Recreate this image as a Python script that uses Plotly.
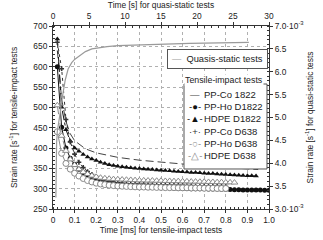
import plotly.graph_objects as go

# ---------------- data ----------------
# time grid of the tensile-impact tests [ms]
t_impact = [0.02, 0.04, 0.06, 0.08, 0.10, 0.12, 0.14, 0.16, 0.18, 0.20,
            0.22, 0.24, 0.26, 0.28, 0.30, 0.32, 0.34, 0.36, 0.38, 0.40,
            0.42, 0.44, 0.46, 0.48, 0.50, 0.52, 0.54, 0.56, 0.58, 0.60,
            0.62, 0.64, 0.66, 0.68, 0.70, 0.72, 0.74, 0.76, 0.78, 0.80,
            0.82, 0.84, 0.86, 0.88, 0.90, 0.92, 0.94, 0.96, 0.98, 1.00]

ppco_1822_t = [0.02, 0.04, 0.06, 0.08, 0.10, 0.15, 0.20, 0.30, 0.40, 0.50,
               0.60, 0.70, 0.80, 0.90, 0.95]
ppco_1822 = [640, 520, 465, 435, 418, 398, 388, 377, 370, 365,
             360, 356, 352, 349, 347]

ppho_d1822 = [600, 451, 400, 375, 360, 348, 340, 334, 329, 325,
              321, 318, 315, 313, 311, 309.5, 308, 307, 306, 305,
              304.5, 304, 303.5, 303, 302.5, 302, 301.5, 301, 301, 300.5,
              300.5, 300, 300, 299.5, 299.5, 299, 299, 299, 298.5, 298.5,
              298, 297.5, 297.5, 297, 297, 297, 296.5, 296.5, 296, 296]

hdpe_d1822 = [668, 500, 445, 417, 400, 392, 384, 378, 373, 369,
              365, 362, 359, 357, 355, 354, 352.5, 351.5, 350.5, 349.5,
              348.5, 347.5, 347, 346, 345, 344.5, 344, 343, 342, 341.5,
              341, 340, 339.5, 339, 338, 337.5, 337, 336, 335.5, 335,
              334, 333.5, 333, 332.5, 332, 331.5, 331]

ppco_d638 = [660, 595, 470, 415, 385, 365, 352, 342, 335, 330,
             325, 321, 318, 316, 314.5, 313.5, 312.5, 312, 311.5, 311,
             310.5, 310, 310, 309.5, 309, 309, 308.5, 308.5, 308, 308,
             307.5, 307.5, 307, 307, 306.5, 306.5, 306, 306, 305.5, 305.5]

ppho_d638 = [440, 387, 362, 348, 338, 331, 325, 320, 316.5, 313.5,
             311.5, 310, 308.5, 307.5, 306.5, 306, 305.5, 305, 304.5, 304,
             304, 303.5, 303.5, 303, 303, 302.5, 302.5, 302.5, 302, 302,
             302, 301.5, 301.5, 301.5, 301, 301, 301, 300.5, 300.5, 300.5]

hdpe_d638 = [505, 430, 393, 372, 358, 348, 341, 336, 332, 329,
             327, 325.5, 324.5, 323.5, 323, 322.5, 322, 321.5, 321, 320.5,
             320.5, 320, 320, 319.5, 319.5, 319, 319, 318.5, 318.5, 318,
             318, 317.5, 317.5, 317, 317, 316.5, 316.5, 316, 316, 315.5,
             315.5, 315]

# quasi-static test: time [s], strain rate [1e-3 s^-1]
qs_t = [0.4, 0.42, 0.5, 0.6, 0.75, 1.0, 1.2, 1.4, 1.7, 2.1, 2.6, 3.0, 3.5,
        4.0, 4.5, 5.4, 6.5, 7.5, 9.0, 10.5, 12.0, 14.0, 16.7, 19.0, 22.0,
        25.0, 27.2]
qs_rate_e3 = [3.25, 3.9, 4.45, 4.7, 4.9, 5.1, 5.35, 5.56, 5.82, 6.06, 6.2,
              6.27, 6.33, 6.39, 6.44, 6.5, 6.53, 6.55, 6.57, 6.58, 6.59,
              6.6, 6.61, 6.62, 6.63, 6.64, 6.64]

x_ticks = [0, 0.1, 0.2, 0.3, 0.4, 0.5, 0.6, 0.7, 0.8, 0.9, 1.0]
x_labels = ["0", "0.1", "0.2", "0.3", "0.4", "0.5", "0.6", "0.7", "0.8", "0.9", "1.0"]
y2_ticks = [3.0, 3.5, 4.0, 4.5, 5.0, 5.5, 6.0, 6.5, 7.0]
y2_labels = ["3.0·10<sup>-3</sup>", "3.5", "4.0", "4.5", "5.0", "5.5", "6.0",
             "6.5", "7.0·10<sup>-3</sup>"]

legend2_names = ["PP-Co 1822", "PP-Ho D1822", "HDPE D1822",
                 "PP-Co D638", "PP-Ho D638", "HDPE D638"]

# ---------------- figure ----------------
FONT = "Liberation Sans, Arial, sans-serif"
BLACK = "#111111"
GRAY = "#8a8a8a"
TICKFS = 8.4
TITLEFS = 8.4

fig = go.Figure()

fig.add_trace(go.Scatter(x=ppco_1822_t, y=ppco_1822, mode="lines", name=legend2_names[0],
                         line=dict(color="#444444", width=1, dash="8px,4px")))
fig.add_trace(go.Scatter(x=t_impact[:len(ppho_d1822)], y=ppho_d1822, mode="lines+markers",
                         name=legend2_names[1],
                         line=dict(color=BLACK, width=1),
                         marker=dict(symbol="circle", size=5, color=BLACK)))
fig.add_trace(go.Scatter(x=t_impact[:len(hdpe_d1822)], y=hdpe_d1822, mode="lines+markers",
                         name=legend2_names[2],
                         line=dict(color=BLACK, width=1, dash="dashdot"),
                         marker=dict(symbol="triangle-up", size=5, color=BLACK)))
fig.add_trace(go.Scatter(x=t_impact[:len(ppco_d638)], y=ppco_d638, mode="lines+markers",
                         name=legend2_names[3],
                         line=dict(color="#333333", width=1, dash="dot"),
                         marker=dict(symbol="cross", size=4, color="#333333")))
fig.add_trace(go.Scatter(x=t_impact[:len(ppho_d638)], y=ppho_d638, mode="lines+markers",
                         name=legend2_names[4],
                         line=dict(color=GRAY, width=1),
                         marker=dict(symbol="circle", size=6, color="white",
                                     line=dict(color=GRAY, width=1))))
fig.add_trace(go.Scatter(x=t_impact[:len(hdpe_d638)], y=hdpe_d638, mode="lines+markers",
                         name=legend2_names[5],
                         line=dict(color=GRAY, width=1, dash="dash"),
                         marker=dict(symbol="triangle-up", size=6, color="white",
                                     line=dict(color=GRAY, width=1))))
fig.add_trace(go.Scatter(x=qs_t, y=qs_rate_e3, mode="lines", xaxis="x2", yaxis="y2",
                         name="Quasis-static tests",
                         line=dict(color="#9a9a9a", width=1.2)))

axis_common = dict(showline=True, linecolor="#333333", linewidth=1,
                   ticks="outside", ticklen=3, tickcolor="#333333",
                   tickfont=dict(size=TICKFS, color="#222222"),
                   zeroline=False, automargin=False)

fig.update_layout(
    width=323, height=240,
    margin=dict(l=53, r=54, t=26, b=31),
    paper_bgcolor="white", plot_bgcolor="white",
    font=dict(family=FONT, size=9, color="#222222"),
    showlegend=False,
    xaxis=dict(range=[0, 1], tickvals=x_ticks, ticktext=x_labels,
               showgrid=True, gridcolor="#b0b0b0", griddash="dot", gridwidth=1,
               minor=dict(ticks="inside", ticklen=2, dtick=0.02, tickcolor="#333333", showgrid=False),
               title=dict(text="Time [ms] for tensile-impact tests", font=dict(size=TITLEFS), standoff=2),
               **axis_common),
    yaxis=dict(range=[250, 700], dtick=50, tick0=250,
               showgrid=True, gridcolor="#b0b0b0", griddash="dot", gridwidth=1,
               minor=dict(ticks="inside", ticklen=2, dtick=10, tickcolor="#333333", showgrid=False),
               title=dict(text="Strain rate [s<sup>-1</sup>] for tensile-impact tests",
                          font=dict(size=TITLEFS), standoff=14),
               **axis_common),
    xaxis2=dict(range=[0, 30], dtick=5, tick0=0, overlaying="x", side="top", anchor="y",
                showgrid=False,
                minor=dict(ticks="inside", ticklen=2, dtick=1, tickcolor="#333333", showgrid=False),
                title=dict(text="Time [s] for quasi-static tests", font=dict(size=TITLEFS), standoff=1),
                **axis_common),
    yaxis2=dict(range=[3.0, 7.0], tickvals=y2_ticks, ticktext=y2_labels,
                overlaying="y", side="right", anchor="x", showgrid=False,
                minor=dict(ticks="inside", ticklen=2, dtick=0.1, tickcolor="#333333", showgrid=False),
                title=dict(text="Strain rate [s<sup>-1</sup>] for quasi-static tests",
                           font=dict(size=TITLEFS), standoff=4),
                **axis_common),
)

# legend of the quasi-static curve
fig.add_annotation(xref="paper", yref="paper", x=0.995, y=0.874,
                   xanchor="right", yanchor="top", align="left", showarrow=False,
                   text="<span style='color:#9a9a9a'>—</span>  Quasis-static tests",
                   font=dict(size=9.3),
                   bgcolor="white", bordercolor="#555555", borderwidth=1, borderpad=4)

# legend of the tensile-impact curves: frame, one row per series, title
fig.add_shape(type="rect", xref="paper", yref="paper",
              x0=0.6065, x1=0.9907, y0=0.2186, y1=0.683,
              line=dict(color="#555555", width=1), fillcolor="white", layer="above")
legend2_symbols = [
    ("—", "#444444"),
    ("-●-", "#111111"),
    ("-▲-", "#111111"),
    ("·+·", "#333333"),
    ("-○-", "#8a8a8a"),
    ("-△-", "#8a8a8a"),
]
PLOT_TOP, PLOT_H = 26.0, 183.0
for i, (name, (sym, col)) in enumerate(zip(legend2_names, legend2_symbols)):
    row_px = 94.5 + 12.2 * i
    y_paper = 1 - (row_px - PLOT_TOP) / PLOT_H
    fig.add_annotation(xref="paper", yref="paper", x=0.657, y=y_paper,
                       xanchor="center", yanchor="middle", showarrow=False,
                       text=sym, font=dict(size=9.5, color=col), borderpad=0)
    fig.add_annotation(xref="paper", yref="paper", x=0.6944, y=y_paper,
                       xanchor="left", yanchor="middle", showarrow=False,
                       text=name, font=dict(size=9.5), borderpad=0)
fig.add_annotation(xref="paper", yref="paper", x=0.792, y=0.705,
                   xanchor="center", yanchor="middle", showarrow=False,
                   text="Tensile-impact tests", font=dict(size=8.8),
                   bgcolor="white", borderpad=0)

fig.write_html("out.html", config={"displayModeBar": False},
               post_script="document.body.style.margin='0';document.body.style.padding='0';")
